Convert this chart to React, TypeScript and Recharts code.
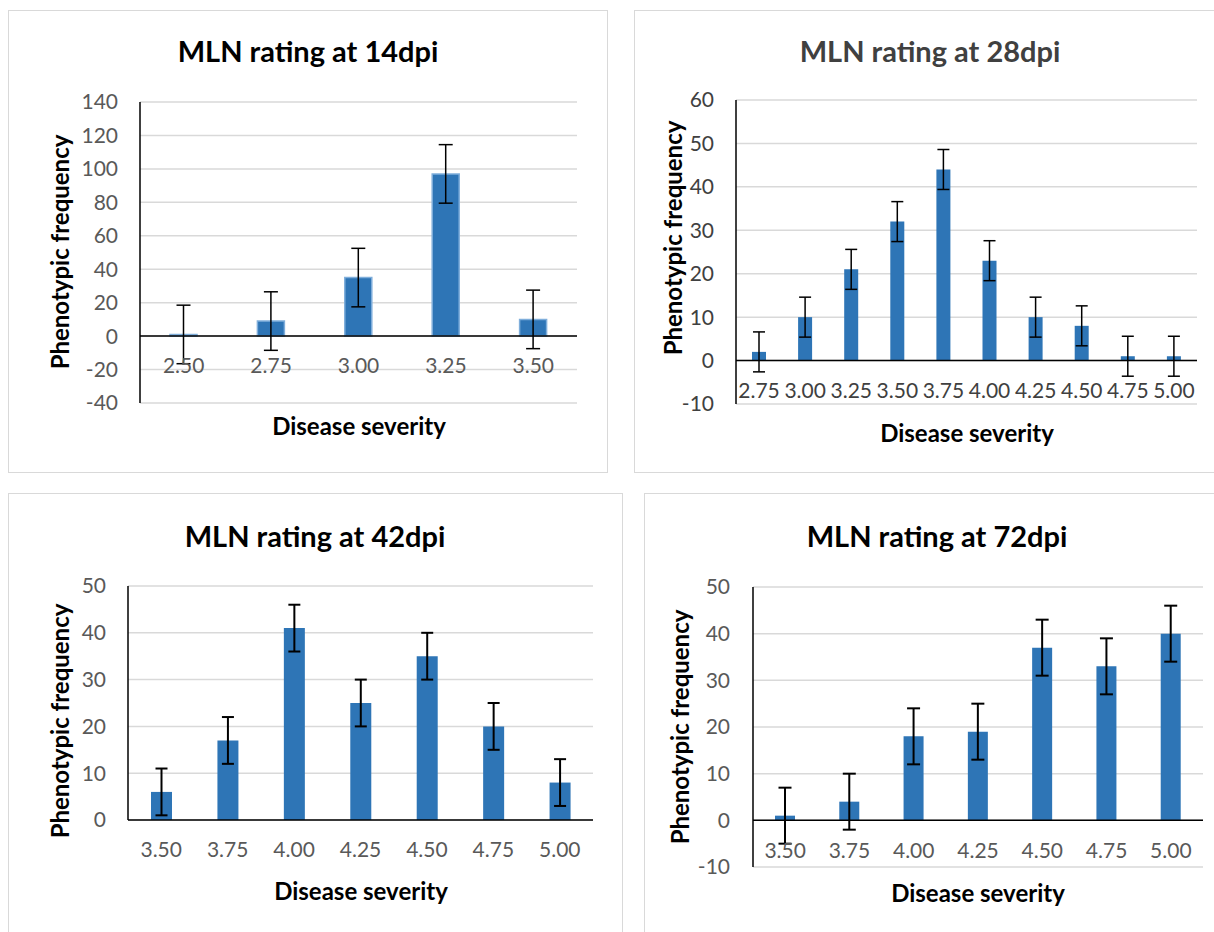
import { BarChart, Bar, XAxis, YAxis, CartesianGrid, ReferenceLine, ErrorBar } from "recharts";

// 14 dpi
const CATS_14 = ["2.50", "2.75", "3.00", "3.25", "3.50"];
const FREQ_14 = [1, 9, 35, 97, 10];
const ERR_14 = [17.5, 17.5, 17.5, 17.5, 17.5];
const TICKS_14 = [-40, -20, 0, 20, 40, 60, 80, 100, 120, 140];

// 28 dpi
const CATS_28 = ["2.75", "3.00", "3.25", "3.50", "3.75", "4.00", "4.25", "4.50", "4.75", "5.00"];
const FREQ_28 = [2, 10, 21, 32, 44, 23, 10, 8, 1, 1];
const ERR_28 = [4.6, 4.6, 4.6, 4.6, 4.6, 4.6, 4.6, 4.6, 4.6, 4.6];
const TICKS_28 = [-10, 0, 10, 20, 30, 40, 50, 60];

// 42 dpi
const CATS_42 = ["3.50", "3.75", "4.00", "4.25", "4.50", "4.75", "5.00"];
const FREQ_42 = [6, 17, 41, 25, 35, 20, 8];
const ERR_42 = [5, 5, 5, 5, 5, 5, 5];
const TICKS_42 = [0, 10, 20, 30, 40, 50];

// 72 dpi
const CATS_72 = ["3.50", "3.75", "4.00", "4.25", "4.50", "4.75", "5.00"];
const FREQ_72 = [1, 4, 18, 19, 37, 33, 40];
const ERR_72 = [6, 6, 6, 6, 6, 6, 6];
const TICKS_72 = [-10, 0, 10, 20, 30, 40, 50];

const FONT = "Lato, 'Open Sans', sans-serif";
const BLUE = "#2E75B6";
const TICK_SIZE = 21;

type Row = { cat: string; value: number; err: number };

const build = (cats: string[], vals: number[], errs: number[]): Row[] =>
  cats.map((c, i) => ({ cat: c, value: vals[i], err: errs[i] }));

interface PanelProps {
  title: string;
  data: Row[];
  ticks: number[];
  box: { x: number; y: number; w: number; h: number };
  plot: { l: number; t: number; r: number; b: number };
  titlePos: [number, number];
  xTitlePos: [number, number];
  yTitlePos: [number, number];
  barSize: number;
  cap: number;
  errWidth: number;
  tickGap: number;
  glow?: boolean;
  textColor?: string;
}

function Panel(p: PanelProps) {
  const min = p.ticks[0];
  const max = p.ticks[p.ticks.length - 1];
  const plotW = p.plot.r - p.plot.l;
  const plotH = p.plot.b - p.plot.t;
  const padL = 80;
  const padT = 20;
  const zeroY = padT + (plotH * max) / (max - min);
  const tickColor = p.textColor ?? "#595959";

  const renderXTick = (props: any) => (
    <text
      x={props.x}
      y={zeroY + 30}
      dy="0.35em"
      textAnchor="middle"
      fill={tickColor}
      fontSize={TICK_SIZE}
      fontFamily={FONT}
    >
      {props.payload.value}
    </text>
  );

  const label = (pos: [number, number], text: string, size: number, rotate = false, color = "#000") => (
    <div
      style={{
        position: "absolute",
        left: pos[0],
        top: pos[1],
        transform: `translate(-50%, -50%)${rotate ? " rotate(-90deg)" : ""}`,
        whiteSpace: "nowrap",
        fontFamily: FONT,
        fontWeight: 700,
        fontSize: size,
        color,
      }}
    >
      {text}
    </div>
  );

  return (
    <>
      <div
        style={{
          position: "absolute",
          left: p.box.x,
          top: p.box.y,
          width: p.box.w,
          height: p.box.h,
          border: "1.5px solid #D9D9D9",
          boxSizing: "border-box",
        }}
      />
      {label(p.titlePos, p.title, 29, false, p.textColor ?? "#000")}
      {label(p.xTitlePos, "Disease severity", 24)}
      {label(p.yTitlePos, "Phenotypic frequency", 24, true)}
      <div style={{ position: "absolute", left: p.plot.l - padL, top: p.plot.t - padT }}>
        <BarChart
          width={plotW + padL + 10}
          height={plotH + padT + 50}
          data={p.data}
          margin={{ top: padT, right: 10, bottom: 20, left: 20 }}
          barSize={p.barSize}
        >
          <CartesianGrid vertical={false} stroke="#D9D9D9" strokeWidth={1.5} />
          <XAxis dataKey="cat" height={30} axisLine={false} tickLine={false} tick={renderXTick} interval={0} />
          <YAxis
            width={60}
            domain={[min, max]}
            ticks={p.ticks}
            interval={0}
            tickSize={0}
            tickMargin={p.tickGap}
            axisLine={{ stroke: "#000", strokeWidth: 1.5 }}
            tickLine={false}
            tick={{ fill: tickColor, fontSize: TICK_SIZE, fontFamily: FONT }}
          />
          <Bar
            dataKey="value"
            fill={BLUE}
            stroke={p.glow ? "#7FAEDB" : undefined}
            strokeWidth={p.glow ? 1.5 : 0}
            isAnimationActive={false}
          >
            <ErrorBar dataKey="err" width={p.cap} stroke="#000" strokeWidth={p.errWidth} />
          </Bar>
          <ReferenceLine y={0} stroke="#000" strokeWidth={1.5} />
        </BarChart>
      </div>
    </>
  );
}

export default function App() {
  return (
    <div
      style={{
        position: "absolute",
        left: 0,
        top: 0,
        width: 1214,
        height: 932,
        overflow: "hidden",
        background: "#fff",
      }}
    >
      <Panel
        title="MLN rating at 14dpi"
        data={build(CATS_14, FREQ_14, ERR_14)}
        ticks={TICKS_14}
        box={{ x: 8, y: 10, w: 600, h: 463 }}
        plot={{ l: 140, t: 102, r: 577, b: 403 }}
        titlePos={[308, 50]}
        xTitlePos={[359, 425]}
        yTitlePos={[59, 252]}
        barSize={27}
        cap={7}
        errWidth={1.5}
        tickGap={22}
        glow
      />
      <Panel
        title="MLN rating at 28dpi"
        data={build(CATS_28, FREQ_28, ERR_28)}
        ticks={TICKS_28}
        box={{ x: 634, y: 10, w: 620, h: 463 }}
        plot={{ l: 736, t: 100, r: 1197, b: 404 }}
        titlePos={[930, 50]}
        xTitlePos={[967, 432]}
        yTitlePos={[672, 238]}
        barSize={14}
        cap={6}
        errWidth={1.5}
        tickGap={22}
        textColor="#404040"
      />
      <Panel
        title="MLN rating at 42dpi"
        data={build(CATS_42, FREQ_42, ERR_42)}
        ticks={TICKS_42}
        box={{ x: 8, y: 493, w: 615, h: 470 }}
        plot={{ l: 128, t: 586, r: 593, b: 820 }}
        titlePos={[315, 535]}
        xTitlePos={[361, 890]}
        yTitlePos={[59, 721]}
        barSize={21}
        cap={6}
        errWidth={2}
        tickGap={22}
      />
      <Panel
        title="MLN rating at 72dpi"
        data={build(CATS_72, FREQ_72, ERR_72)}
        ticks={TICKS_72}
        box={{ x: 644, y: 493, w: 620, h: 470 }}
        plot={{ l: 753, t: 587, r: 1203, b: 867 }}
        titlePos={[937, 535]}
        xTitlePos={[978, 892]}
        yTitlePos={[679, 727]}
        barSize={20}
        cap={6.5}
        errWidth={2}
        tickGap={23}
      />
    </div>
  );
}
